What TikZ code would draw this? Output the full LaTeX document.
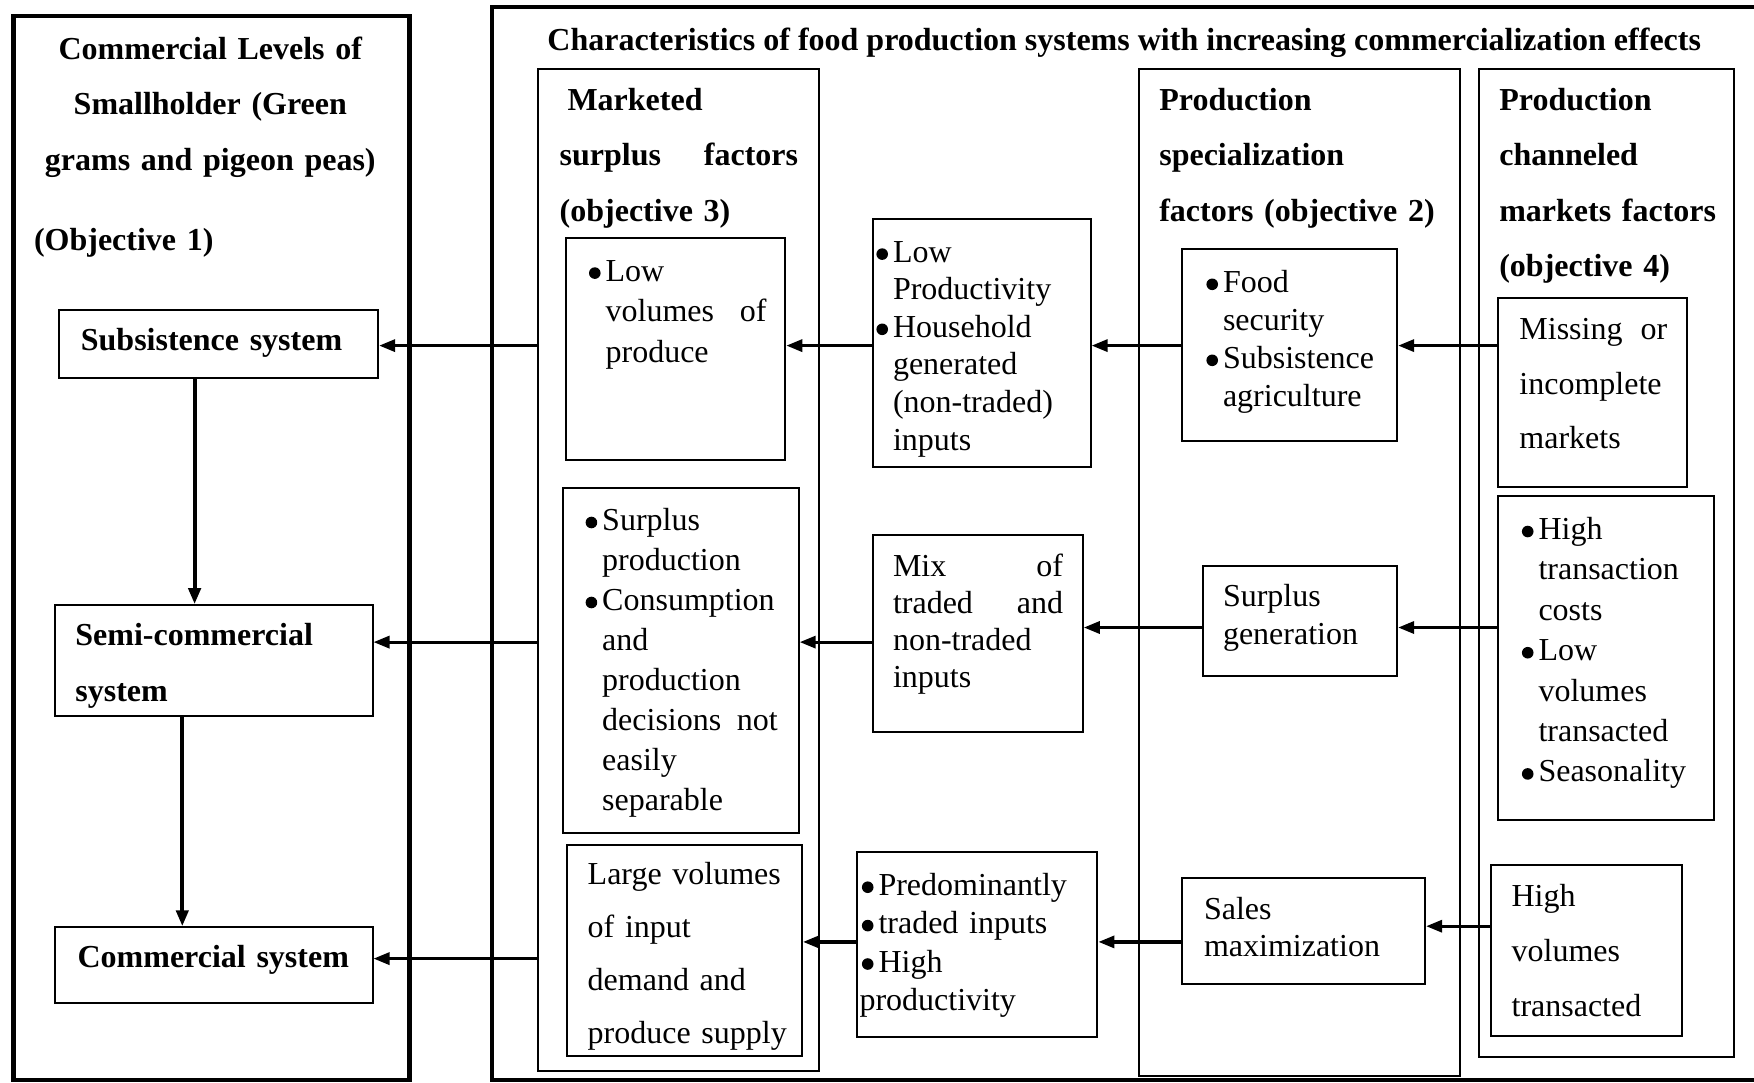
\documentclass[tikz,border=0pt]{standalone}
\usepackage{fontspec}
\setmainfont{Liberation Serif}
\usetikzlibrary{arrows.meta,fit}
\newcommand\bu{\leavevmode\llap{\raisebox{1.1pt}{\tikz\fill (0,0) circle (2.9pt);}\hspace{2.5pt}}}
\begin{document}
\begin{tikzpicture}[x=0.5pt,y=-0.5pt,
  thickbox/.style={draw, line width=2.2pt, inner sep=0pt},
  thinbox/.style={draw, line width=1pt, inner sep=0pt},
  txt/.style={anchor=base west, inner sep=0pt, yshift=-1.2pt, text width=300pt, align=left, font=\fontsize{16}{#1}\selectfont},
  txt/.default=19,
  btxt/.style={txt=#1, font=\fontsize{16}{#1}\selectfont\bfseries},
  btxt/.default=27.75,
  arr/.style={-{Triangle[length=8pt,width=6pt]}, line width=1.6pt},
  varr/.style={-{Triangle[length=8pt,width=6pt]}, line width=2pt}]
\useasboundingbox (0,0) rectangle (1754,1082);
% left panel
\node[thickbox, fit={(13.4,15.7) (409.4,1080)}] (lb) {};
\node[anchor=base, inner sep=0pt, yshift=-1.2pt, text width=190pt, align=center, font=\fontsize{16}{27.7}\selectfont\bfseries] (lbt) at (210.3,57) {Commercial Levels of\\Smallholder (Green\\grams and pigeon peas)};
\node[btxt] (obj1) at (33.6,248.5) {(Objective 1)};
\node[thinbox, fit={(59.3,309.9) (378.1,378.1)}] (sub) {};
\node[thinbox, fit={(54.8,605.2) (372.5,715.9)}] (semi) {};
\node[thinbox, fit={(54.8,927.3) (372.5,1003.4)}] (com) {};
\node[btxt] (subt) at (80.5,348) {Subsistence system};
\node[btxt=28] (semit) at (75,643.4) {Semi-commercial\\system};
\node[btxt] (comt) at (77.2,965.5) {Commercial system};
\coordinate (v1) at (194.6,0);
\coordinate (v2) at (182.3,0);
\draw[varr] (sub.south -| v1) -- (semi.north -| v1);
\draw[varr] (semi.south -| v2) -- (com.north -| v2);
% right panel
\draw[line width=2.2pt] (1770,6.7) -- (492.2,6.7) -- (492.2,1080) -- (1770,1080);
\node[anchor=base, inner sep=0pt, yshift=-1.2pt, font=\fontsize{16}{19}\selectfont\bfseries] (title) at (1124.2,48.3) {Characteristics of food production systems with increasing commercialization effects};
% columns
\node[thinbox, fit={(538.1,69.4) (818.8,1070.5)}] (colA) {};
\node[thinbox, fit={(1138.7,69.4) (1459.8,1076)}] (colC) {};
\node[thinbox, fit={(1478.8,69.4) (1733.8,1057.1)}] (colD) {};
\node[btxt] (colAt) at (559.3,107.6) {\hspace*{3.9pt}Marketed\\\makebox[119.2pt][s]{surplus\hfill factors}\\(objective 3)};
\node[btxt] (colCt) at (1158.9,107.6) {Production\\specialization\\factors (objective 2)};
\node[btxt] (colDt) at (1498.9,107.6) {Production\\channeled\\markets factors\\(objective 4)};
% boxes
\node[thinbox, fit={(566,238.3) (785.3,459.7)}] (a1) {};
\node[thinbox, fit={(562.7,487.7) (798.7,833.4)}] (a2) {};
\node[thinbox, fit={(567.1,844.5) (802,1056)}] (a3) {};
\node[thinbox, fit={(872.5,219.2) (1090.6,466.5)}] (b1) {};
\node[thinbox, fit={(872.5,534.7) (1082.8,731.6)}] (b2) {};
\node[thinbox, fit={(856.9,852.4) (1097.4,1037)}] (b3) {};
\node[thinbox, fit={(1182.4,249.4) (1397.1,440.7)}] (c1) {};
\node[thinbox, fit={(1202.5,566) (1397.1,675.6)}] (c2) {};
\node[thinbox, fit={(1182.4,878.1) (1425.1,984.4)}] (c3) {};
\node[thinbox, fit={(1497.8,297.5) (1686.9,486.6)}] (d1) {};
\node[thinbox, fit={(1497.8,495.5) (1713.7,819.9)}] (d2) {};
\node[thinbox, fit={(1491.1,864.7) (1682.4,1035.8)}] (d3) {};
% texts
\node[txt=20.4] (a1t) at (605.2,278.7) {\bu Low\\\makebox[80.5pt][s]{volumes\hfill of}\\produce};
\node[txt=20] (a2t) at (601.8,528.1) {\bu Surplus\\production\\\bu Consumption\\and\\production\\\makebox[87.8pt][s]{decisions\hfill not}\\easily\\separable};
\node[txt=26.5] (a3t) at (587.3,881.6) {Large volumes\\of input\\demand and\\produce supply};
\node[txt=18.8] (b1t) at (892.6,259.7) {\bu Low\\Productivity\\\bu Household\\generated\\(non-traded)\\inputs};
\node[txt=18.5] (b2t) at (892.6,574) {\makebox[85pt][s]{Mix\hfill of}\\\makebox[85pt][s]{traded\hfill and}\\non-traded\\inputs};
\node[txt=19.2] (b3t) at (859.1,892.8) {\hspace*{9.5pt}\bu Predominantly\\\hspace*{9.5pt}\bu traded inputs\\\hspace*{9.5pt}\bu High\\productivity};
\node[txt=19] (c1t) at (1222.6,289.9) {\bu Food\\security\\\bu Subsistence\\agriculture};
\node[txt=19] (c2t) at (1222.6,604.2) {Surplus\\generation};
\node[txt=18.5] (c3t) at (1203.6,917.4) {Sales\\maximization};
\node[txt=27.4] (d1t) at (1519,336.9) {\makebox[73.9pt][s]{Missing\hfill or}\\incomplete\\markets};
\node[txt=20.2] (d2t) at (1538.1,537.1) {\bu High\\transaction\\costs\\\bu Low\\volumes\\transacted\\\bu Seasonality};
\node[txt=27.4] (d3t) at (1511.2,904) {High\\volumes\\transacted};
% arrows
\coordinate (r1) at (0,345.6);
\coordinate (r2) at (0,642.1);
\coordinate (r2b) at (0,627.5);
\coordinate (r3) at (0,958.6);
\coordinate (r3b) at (0,941.9);
\coordinate (r3c) at (0,926.2);
\draw[arr] (colA.west |- r1) -- (sub.east |- r1);
\draw[arr] (b1.west |- r1) -- (a1.east |- r1);
\draw[arr] (c1.west |- r1) -- (b1.east |- r1);
\draw[arr] (d1.west |- r1) -- (c1.east |- r1);
\draw[arr] (colA.west |- r2) -- (semi.east |- r2);
\draw[arr] (b2.west |- r2) -- (a2.east |- r2);
\draw[arr] (c2.west |- r2b) -- (b2.east |- r2b);
\draw[arr] (d2.west |- r2b) -- (c2.east |- r2b);
\draw[arr] (colA.west |- r3) -- (com.east |- r3);
\draw[arr] (b3.west |- r3b) -- (a3.east |- r3b);
\draw[arr] (c3.west |- r3b) -- (b3.east |- r3b);
\draw[arr] (d3.west |- r3c) -- (c3.east |- r3c);
\end{tikzpicture}
\end{document}
